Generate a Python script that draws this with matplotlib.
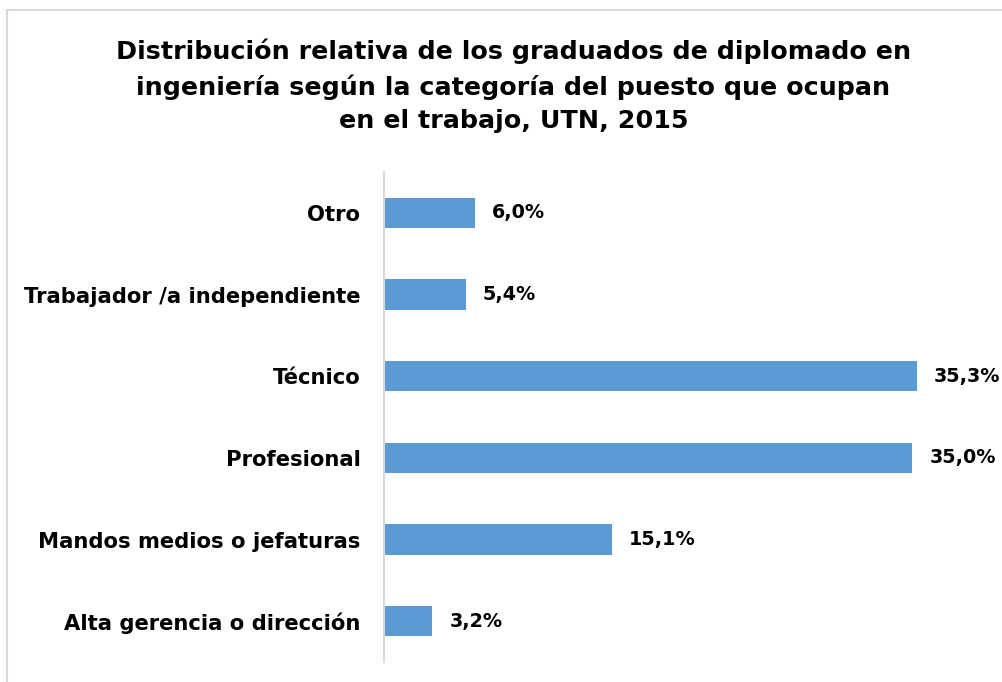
import matplotlib.pyplot as plt
from matplotlib.patches import Rectangle

# data, bottom to top
categories = ['Alta gerencia o dirección', 'Mandos medios o jefaturas', 'Profesional',
              'Técnico', 'Trabajador /a independiente', 'Otro']
values = [3.2, 15.1, 35.0, 35.3, 5.4, 6.0]
value_labels = ['3,2%', '15,1%', '35,0%', '35,3%', '5,4%', '6,0%']

title = ('Distribución relativa de los graduados de diplomado en\n'
         'ingeniería según la categoría del puesto que ocupan\n'
         'en el trabajo, UTN, 2015')

W, H = 1003, 682
fig = plt.figure(figsize=(W / 100, H / 100), dpi=100)

# light frame around the chart area (cut off right/bottom like the original)
fig.patches.append(Rectangle((7 / W, -0.1), 1.2, 1 - 10 / H + 0.1, transform=fig.transFigure,
                             fill=False, edgecolor='#D9D9D9', linewidth=1.5))

px_per_unit = 15.1
ax = fig.add_axes([384 / W, 1 - 662 / H, (1002 - 384) / W, (662 - 172) / H])
y = range(len(categories))
ax.barh(y, values, height=0.37, color='#5B9BD5')

for yi, v, lab in zip(y, values, value_labels):
    ax.text(v + 17 / px_per_unit, yi, lab, va='center', ha='left', fontsize=13.8,
            fontweight='bold')

ax.set_ylim(-0.5, 5.5)
ax.set_xlim(0, (1002 - 384) / px_per_unit)
ax.set_yticks(list(y))
ax.set_yticklabels(categories, fontsize=15.2, fontweight='bold')
ax.tick_params(axis='y', length=0, pad=17)
ax.set_xticks([])
for s in ['top', 'right', 'bottom']:
    ax.spines[s].set_visible(False)
ax.spines['left'].set_color('#D9D9D9')
ax.spines['left'].set_linewidth(1.5)

fig.text(0.512, 1 - 86 / H, title, ha='center', va='center', fontsize=18.3,
         fontweight='bold', linespacing=1.5)

fig.savefig('out.png', dpi=100)
